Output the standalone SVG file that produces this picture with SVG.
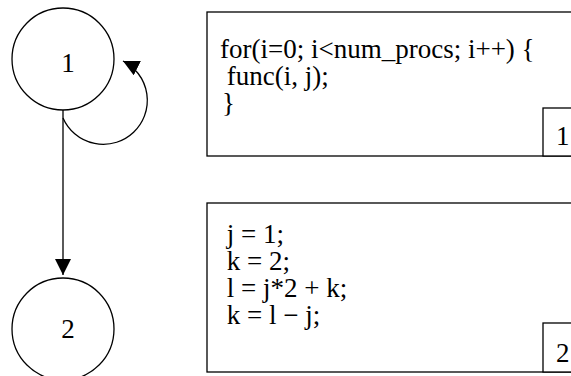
<svg xmlns="http://www.w3.org/2000/svg" width="571" height="376" viewBox="0 0 571 376">
<style>
.n{fill:#fff;stroke:#000;stroke-width:1.3}
.e{fill:none;stroke:#000;stroke-width:1.3}
text{font-family:"Liberation Serif","Times New Roman",serif;font-size:27px;fill:#000}
.c{text-anchor:middle}
</style>
<defs>
<marker id="ah" viewBox="0 0 16 16" refX="16" refY="8" markerWidth="16" markerHeight="16" markerUnits="userSpaceOnUse" orient="auto">
<path d="M0,0 L16,8 L0,16 z" fill="#000"/>
</marker>
</defs>
<rect width="571" height="376" fill="#fff"/>
<g id="connectors">
<path class="e" d="M63 110 L63 275" marker-end="url(#ah)"/>
<path class="e" d="M63 118 A44 44 0 1 0 123 61" marker-end="url(#ah)"/>
</g>
<g id="node1">
<circle class="n" cx="63" cy="59" r="51"/>
<text class="c" x="68" y="72">1</text>
</g>
<g id="node2">
<circle class="n" cx="63" cy="329" r="51"/>
<text class="c" x="68" y="338">2</text>
</g>
<g id="box1">
<rect class="n" x="207" y="12" width="380" height="144"/>
<text x="220" y="58" xml:space="preserve">for(i=0; i&lt;num_procs; i++) {</text>
<text x="220" y="85" xml:space="preserve"> func(i, j);</text>
<text x="222" y="112">}</text>
<rect class="n" x="543" y="108" width="40" height="48"/>
<text x="556" y="145">1</text>
</g>
<g id="box2">
<rect class="n" x="207" y="203" width="380" height="169"/>
<text x="220" y="243" xml:space="preserve"> j = 1;</text>
<text x="220" y="270" xml:space="preserve"> k = 2;</text>
<text x="220" y="297" xml:space="preserve"> l = j*2 + k;</text>
<text x="220" y="324" xml:space="preserve"> k = l − j;</text>
<rect class="n" x="543" y="323" width="40" height="49"/>
<text x="556" y="362">2</text>
</g>
</svg>
